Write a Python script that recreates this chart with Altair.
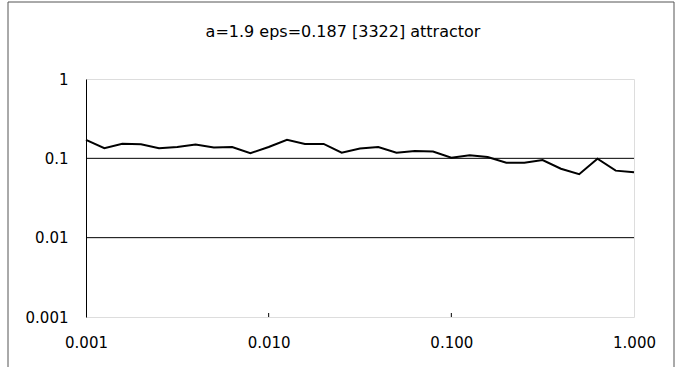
import altair as alt
import pandas as pd

title_text = "a=1.9 eps=0.187 [3322] attractor"

x_vals = [0.001, 0.00126, 0.00158, 0.002, 0.00251, 0.00316, 0.00398, 0.00501, 0.00631, 0.00794,
          0.01, 0.0126, 0.0158, 0.02, 0.0251, 0.0316, 0.0398, 0.0501, 0.0631, 0.0794,
          0.1, 0.126, 0.158, 0.2, 0.251, 0.316, 0.398, 0.501, 0.631, 0.794, 1.0]
y_vals = [0.171, 0.134, 0.153, 0.150, 0.134, 0.139, 0.149, 0.137, 0.139, 0.116,
          0.139, 0.171, 0.152, 0.152, 0.118, 0.133, 0.139, 0.118, 0.124, 0.122,
          0.102, 0.109, 0.104, 0.088, 0.088, 0.095, 0.074, 0.063, 0.099, 0.070, 0.067]

x_ticks = [0.001, 0.01, 0.1, 1.0]
y_ticks = [0.001, 0.01, 0.1, 1.0]
grid_vals = [0.1, 0.01]
inner_ticks = [0.01, 0.1]

df = pd.DataFrame({"x": x_vals, "y": y_vals})
grid_df = pd.DataFrame({"g": grid_vals})
tick_df = pd.DataFrame({"t": inner_ticks})
title_df = pd.DataFrame({"label": [title_text]})

W, H = 548, 238
FONT = "DejaVu Sans"

xscale = alt.Scale(type="log", domain=[0.001, 1.0])
yscale = alt.Scale(type="log", domain=[0.001, 1.0])

line = alt.Chart(df).mark_line(color="black", strokeWidth=2).encode(
    x=alt.X("x:Q", scale=xscale,
            axis=alt.Axis(values=x_ticks, format=".3f", title=None, domain=False,
                          ticks=False, grid=False, labelPadding=18, labelFontSize=15,
                          labelFont=FONT, labelColor="black", labelFlush=False)),
    y=alt.Y("y:Q", scale=yscale,
            axis=alt.Axis(values=y_ticks, format="~g", title=None, domain=True,
                          domainColor="black", domainWidth=1, ticks=False, grid=False,
                          labelPadding=18, labelFontSize=15, labelFont=FONT,
                          labelColor="black")),
)

grid = alt.Chart(grid_df).mark_rule(color="black", strokeWidth=1).encode(
    y=alt.Y("g:Q", scale=yscale),
    x=alt.value(0), x2=alt.value(W),
)

ticks = alt.Chart(tick_df).mark_rule(color="black", strokeWidth=1).encode(
    x=alt.X("t:Q", scale=xscale),
    y=alt.value(H - 4), y2=alt.value(H),
)

frame = alt.Chart(pd.DataFrame({"a": [0]})).mark_rect(
    fill=None, stroke="#555555", strokeWidth=1
).encode(
    x=alt.value(-78), x2=alt.value(588),
    y=alt.value(-77), y2=alt.value(400),
)

title = alt.Chart(title_df).mark_text(
    font=FONT, fontSize=16, color="black", align="center", baseline="alphabetic"
).encode(
    text="label:N",
    x=alt.value(257), y=alt.value(-42),
)

chart = alt.layer(frame, grid, ticks, line, title).properties(
    width=W, height=H,
    autosize=alt.AutoSizeParams(type="none"),
    padding={"left": 86, "top": 79, "right": 41, "bottom": 50},
).configure_view(
    stroke="black", strokeDash=[2, 1], strokeWidth=1
).configure(background="white")

chart.save("out.html", embed_options={"renderer": "svg", "actions": False})
